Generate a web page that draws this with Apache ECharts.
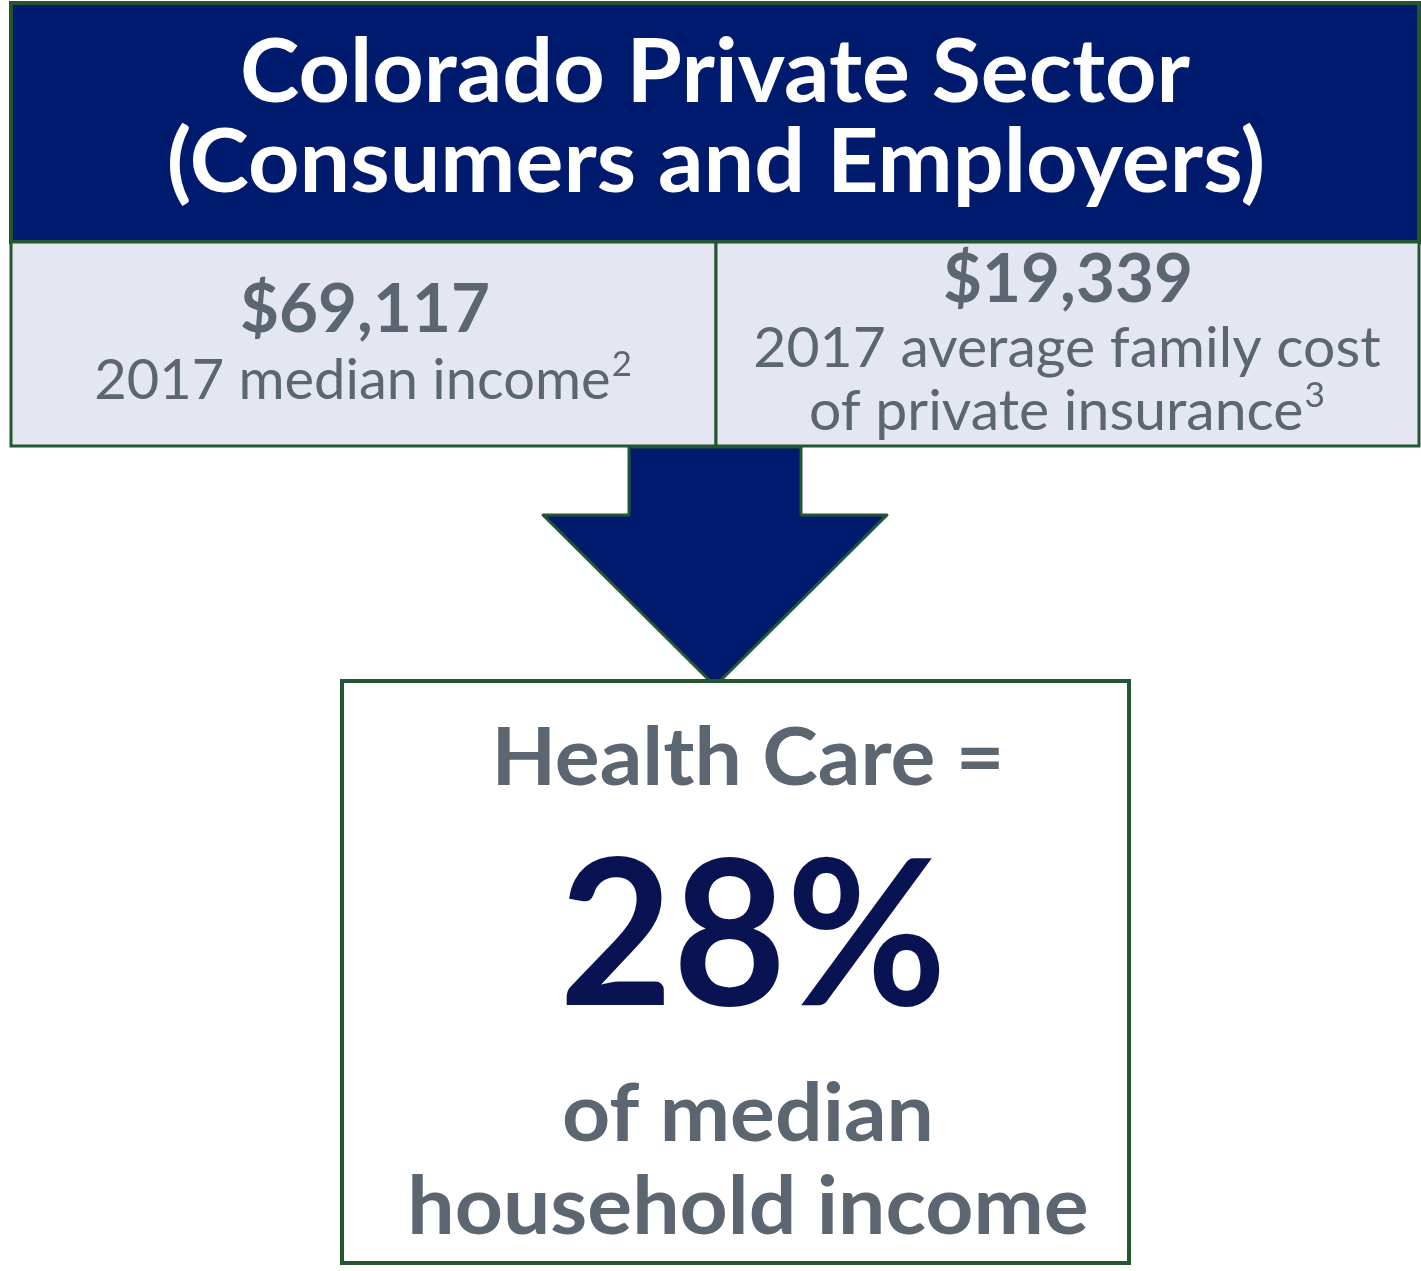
<!DOCTYPE html>
<html>
<head>
<meta charset="utf-8">
<script src="https://cdn.jsdelivr.net/npm/echarts@6/dist/echarts.min.js"></script>
<style>
  html, body { margin: 0; padding: 0; background: #ffffff; }
  #main { width: 1421px; height: 1271px; }
</style>
</head>
<body>
<div id="main"></div>
<script>
// Figures shown in the graphic
const titleLines = ['Colorado Private Sector', '(Consumers and Employers)'];
const medianIncome = 69117;
const familyInsuranceCost = 19339;
const incomeCaption = ['2017 median income'];
const costCaption = ['2017 average family cost', 'of private insurance'];
const footnotes = ['2', '3'];
const resultLines = ['Health Care =', 'of median', 'household income'];

const share = Math.round(familyInsuranceCost / medianIncome * 100);

const NAVY = '#001a6e';
const GREEN = '#255632';
const GRAY = '#5c6670';
const CELL = '#e4e7f1';
const FONT = 'Lato, "Open Sans", sans-serif';

const money = v => '$' + v.toLocaleString('en-US');

const chart = echarts.init(document.getElementById('main'), null, { renderer: 'canvas' });

function txt(x, y, text, size, weight, color, extra) {
  return Object.assign({
    type: 'text',
    x: x, y: y,
    style: {
      text: text,
      fontFamily: FONT,
      fontSize: size,
      fontWeight: weight,
      fill: color,
      align: 'center',
      verticalAlign: 'middle'
    }
  }, extra || {});
}

function captionWithSup(x, y, text, sup, size, scaleX) {
  return {
    type: 'text',
    x: x, y: y,
    scaleX: scaleX, scaleY: 1,
    style: {
      text: '{m|' + text + '}{s|' + sup + '}',
      fontFamily: FONT,
      align: 'center',
      verticalAlign: 'middle',
      rich: {
        m: { fontFamily: FONT, fontSize: size, fill: GRAY, lineHeight: size * 1.1, verticalAlign: 'bottom' },
        s: { fontFamily: FONT, fontSize: size * 0.62, fill: GRAY, lineHeight: size * 1.1, verticalAlign: 'top', padding: [0, 0, 0, 1] }
      }
    }
  };
}

const elements = [
  // header band
  { type: 'rect', shape: { x: 11, y: 3, width: 1408, height: 239 },
    style: { fill: NAVY, stroke: GREEN, lineWidth: 4 } },
  txt(715, 74, titleLines[0], 88, 'bold', '#ffffff', { scaleX: 1.02 }),
  txt(716, 164, titleLines[1], 88, 'bold', '#ffffff', { scaleX: 1.02 }),

  // two figure cells
  { type: 'rect', shape: { x: 11, y: 242, width: 705, height: 204 },
    style: { fill: CELL, stroke: GREEN, lineWidth: 3 } },
  { type: 'rect', shape: { x: 716, y: 242, width: 703, height: 204 },
    style: { fill: CELL, stroke: GREEN, lineWidth: 3 } },

  txt(365, 311, money(medianIncome), 66, 'bold', GRAY, { scaleX: 1.02 }),
  captionWithSup(363, 378, incomeCaption[0], footnotes[0], 56, 1.0),

  txt(1068, 281, money(familyInsuranceCost), 66, 'bold', GRAY, { scaleX: 1.02 }),
  txt(1067, 349, costCaption[0], 56, 'normal', GRAY, { scaleX: 1.02 }),
  captionWithSup(1067, 409, costCaption[1], footnotes[1], 56, 1.02),

  // arrow pointing down to the result
  { type: 'polygon',
    shape: { points: [[629, 447], [801, 447], [801, 515], [887, 515], [715, 686], [543, 515], [629, 515]] },
    style: { fill: NAVY, stroke: GREEN, lineWidth: 3, lineJoin: 'round' } },

  // result box
  { type: 'rect', shape: { x: 342, y: 681, width: 787, height: 582 },
    style: { fill: '#ffffff', stroke: GREEN, lineWidth: 4 } },

  txt(748, 759, resultLines[0], 80, 'bold', GRAY, { scaleX: 1.05 }),
  txt(753, 939, share + '%', 204, 'bold', '#0a1352', { scaleX: 0.96 }),
  txt(748, 1115, resultLines[1], 80, 'bold', GRAY, { scaleX: 1.05 }),
  txt(748, 1208, resultLines[2], 80, 'bold', GRAY, { scaleX: 1.05 })
];

chart.setOption({
  animation: false,
  graphic: { elements: elements }
});
</script>
</body>
</html>
